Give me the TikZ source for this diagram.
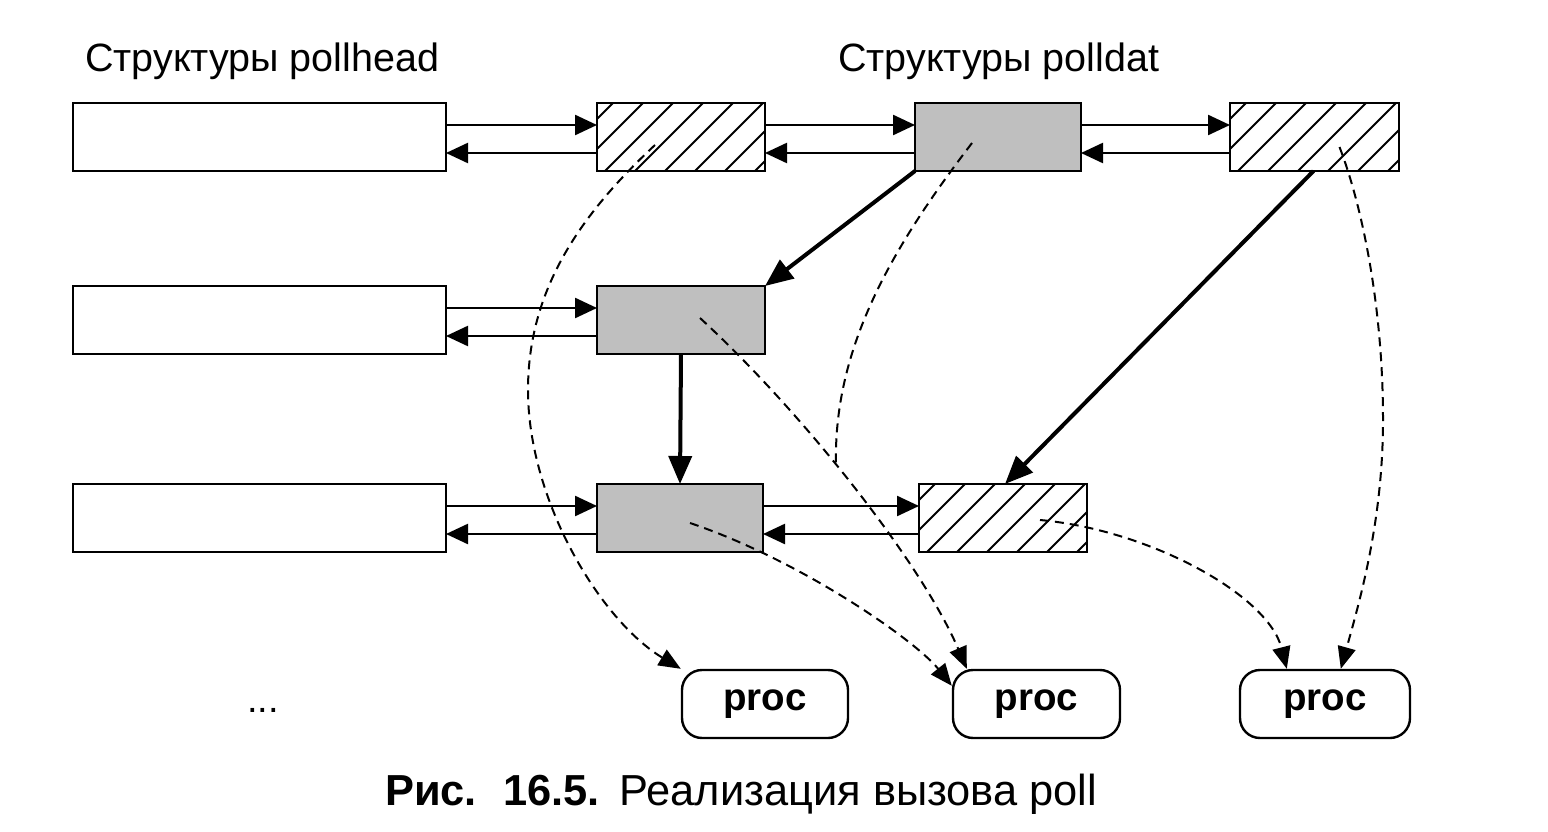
\documentclass[tikz,border=0pt]{standalone}
\usepackage{fontspec}
\setmainfont{Liberation Sans}
\usetikzlibrary{arrows.meta,calc}
\begin{document}
\begin{tikzpicture}[x=1pt,y=-1pt,
  box/.style={draw,line width=2.6pt,inner sep=0pt,outer sep=0pt,minimum height=68pt},
  hatched/.style={box,path picture={\foreach \k in {-3,...,7}{\draw[line width=1.8pt] ([xshift=\k*30pt+8pt]path picture bounding box.south west) -- ++(90pt,90pt);}}},
  dotted box/.style={box,fill=black!25},
  procbox/.style={draw,line width=2.4pt,rounded corners=20pt,minimum width=166pt,minimum height=68pt,inner sep=0pt,font=\fontsize{38.5}{44}\selectfont\bfseries},
  lbl/.style={font=\fontsize{39.5}{46}\selectfont,inner sep=0pt,anchor=base west},
  link/.style={line width=2.4pt,-{Triangle[length=22pt,width=20pt]}},
  thick link/.style={line width=4pt,-{Triangle[length=28pt,width=23pt]}},
  ptr/.style={line width=2pt,dash pattern=on 9pt off 6pt,-{Triangle[length=22pt,width=18pt]}},
  ptrnotip/.style={line width=2pt,dash pattern=on 9pt off 6pt}
]
\useasboundingbox (0,0) rectangle (1548,832);
% labels
\node[lbl] (t1) at (85,72) {Структуры pollhead};
\node[lbl] (t2) at (838,72) {Структуры polldat};
% pollhead boxes
\node[box,minimum width=373pt] (L1) at (259.5,137) {};
\node[box,minimum width=373pt] (L2) at (259.5,320) {};
\node[box,minimum width=373pt] (L3) at (259.5,518) {};
% polldat boxes
\node[hatched,minimum width=168pt] (A1) at (681,137) {};
\node[dotted box,minimum width=166pt] (B1) at (998,137) {};
\node[hatched,minimum width=169pt] (C1) at (1314.5,137) {};
\node[dotted box,minimum width=168pt] (A2) at (681,320) {};
\node[dotted box,minimum width=166pt] (A3) at (680,518) {};
\node[hatched,minimum width=168pt] (B3) at (1003,518) {};
% proc
\node[procbox] (P1) at (765,704) {proc};
\node[procbox,minimum width=167pt] (P2) at (1036.5,704) {proc};
\node[procbox,minimum width=170pt] (P3) at (1325,704) {proc};
\node[lbl,font=\fontsize{38}{44}\selectfont] (dots) at (247,712) {...};
% caption
\node[lbl,font=\fontsize{43.4}{48}\selectfont] (cap) at (385,805) {\textbf{Рис.}\hspace{26pt}\textbf{16.5.}\hspace{20pt}Реализация вызова poll};
% horizontal links
\foreach \a/\b in {L1/A1,A1/B1,B1/C1,L2/A2,L3/A3,A3/B3}{
  \draw[link] ([yshift=12pt]\a.east) -- ([yshift=12pt]\b.west);
  \draw[link] ([yshift=-16pt]\b.west) -- ([yshift=-16pt]\a.east);
}
% thick links
\draw[thick link] (B1.south west) -- (A2.north east);
\draw[thick link] (A2.south) -- (A3.north);
\draw[thick link] ([xshift=-1pt]C1.south) -- ([xshift=2pt]B3.north);
% dashed pointers
\draw[ptr] ($(A1.center)+(-26,8)$) .. controls (580,215) and (528,290) .. (528,390)
  .. controls (528,500) and (600,620) .. (P1.north west);
\draw[ptrnotip] ($(B1.center)+(-26,6)$) .. controls (890,250) and (833,350) .. (836,466);
\draw[ptr] ($(C1.center)+(25,10)$) .. controls (1360,200) and (1383,300) .. (1383,420)
  .. controls (1383,520) and (1360,600) .. ([xshift=102pt]P3.north west);
\draw[ptr] ($(A2.center)+(19,-2)$) .. controls (800,410) and (920,560) .. ([xshift=15pt]P2.north west);
\draw[ptr] ($(A3.center)+(10,5)$) .. controls (800,560) and (915,640) .. ($(P2.north west)+(0,17)$);
\draw[ptr] ($(B3.center)+(37,2)$) .. controls (1150,530) and (1268,595) .. ([xshift=48pt]P3.north west);
\end{tikzpicture}
\end{document}
